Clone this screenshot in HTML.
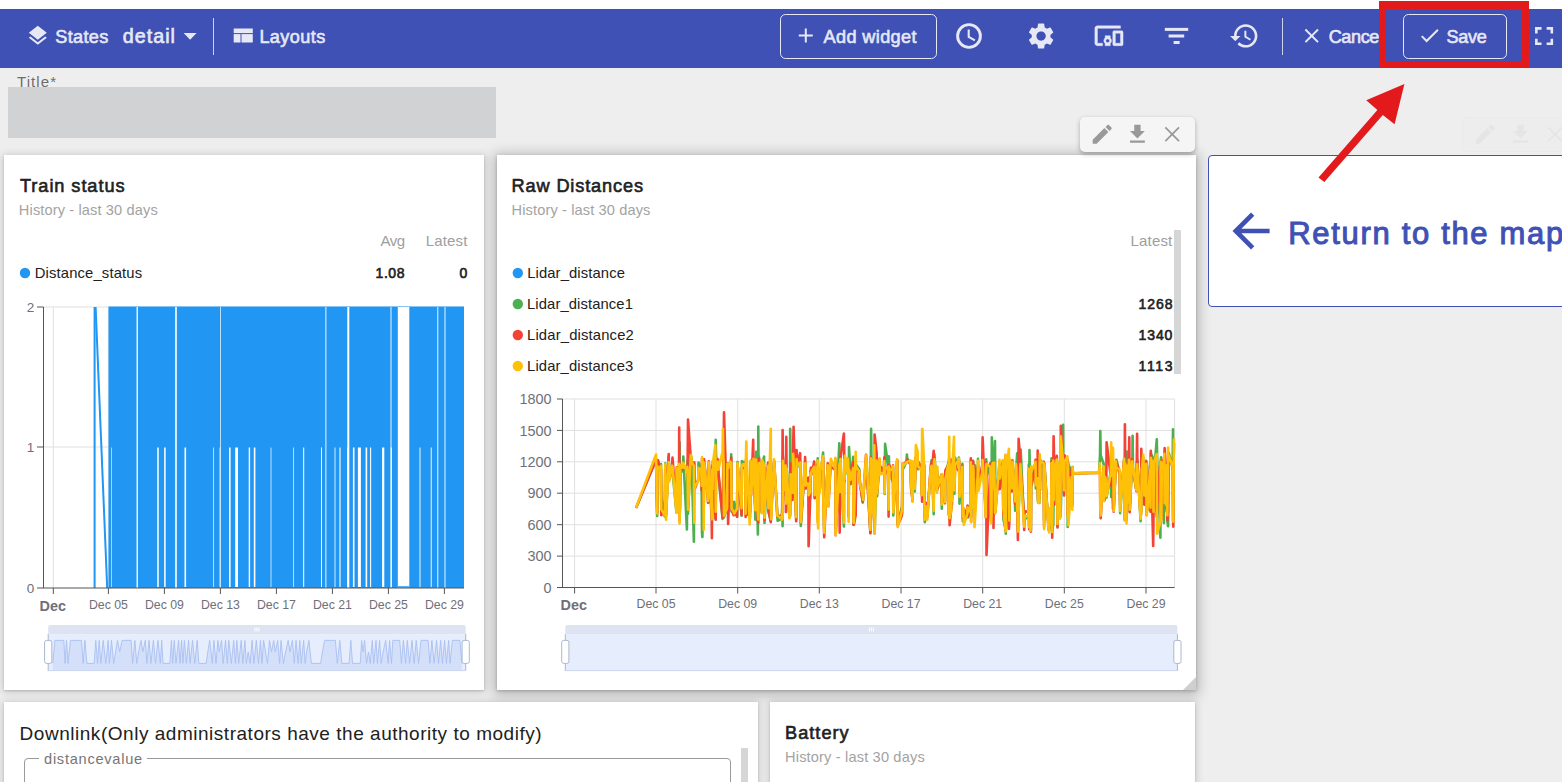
<!DOCTYPE html>
<html><head><meta charset="utf-8"><title>Dashboard</title>
<style>
*{box-sizing:border-box;margin:0;padding:0}
html,body{width:1562px;height:782px;overflow:hidden;background:#eeeeee;font-family:"Liberation Sans", Arial, sans-serif}
body{position:relative}
.a{position:absolute}
.card{position:absolute;background:#fff;box-shadow:0 1px 8px 1px rgba(0,0,0,.17),0 1px 2px rgba(0,0,0,.15)}
svg{position:absolute;left:0;top:0;overflow:visible}
svg text{font-family:"Liberation Sans", Arial, sans-serif;white-space:pre}
</style></head><body>
<div class="a" style="left:0;top:0;width:1562px;height:9px;background:#fff"></div>
<div class="a" style="left:0;top:9px;width:1562px;height:59px;background:#3f51b5"></div>
<div class="a" style="left:8px;top:87px;width:488px;height:51px;background:#d1d2d4"></div>
<div class="card" style="left:4px;top:155px;width:480px;height:535px"></div>
<div class="card" style="left:497px;top:155px;width:699px;height:535px;box-shadow:0 2px 12px 3px rgba(0,0,0,.24),0 1px 3px rgba(0,0,0,.2)"></div>
<div class="a" style="left:1208px;top:155px;width:400px;height:152px;background:#fff;border:1px solid #3f51b5;border-radius:4px"></div>
<div class="card" style="left:4px;top:702px;width:754px;height:100px"></div>
<div class="card" style="left:770px;top:702px;width:425px;height:100px"></div>
<div class="a" style="left:1080px;top:117px;width:115px;height:35px;background:#f5f5f5;border-radius:5px;box-shadow:0 2px 5px rgba(0,0,0,.28)"></div>
<div class="a" style="left:1462px;top:117px;width:115px;height:35px;background:#ededed;border-radius:5px;border:1px solid #eaeaea"></div>
<div class="a" style="left:1174px;top:230px;width:7px;height:144px;background:#d6d6d6"></div>
<div class="a" style="left:741px;top:748px;width:7px;height:40px;background:#d6d6d6"></div>
<div class="a" style="left:24px;top:758px;width:707px;height:40px;border:1px solid #9a9a9a;border-radius:4px"></div>
<div class="a" style="left:39px;top:755px;width:108px;height:6px;background:#fff"></div>
<svg width="1562" height="782" viewBox="0 0 1562 782"><g fill="#e6e8f5">
<path transform="translate(25.8,23.7)" d="M11.99 18.54l-7.37-5.73L3 14.07l9 7 9-7-1.63-1.27-7.38 5.74zM12 16l7.36-5.73L21 9l-9-7-9 7 1.63 1.27L12 16z"/>
<path d="M183.6 33 L196.6 33 L190.1 39.7 Z"/>
<rect x="233.7" y="28.5" width="19.1" height="4.6"/><rect x="233.7" y="34.1" width="6.8" height="8.4"/><rect x="241.5" y="34.1" width="11.3" height="8.4"/>
<path transform="translate(793.8,23.4)" d="M19 13h-6v6h-2v-6H5v-2h6V5h2v6h6v2z"/>
</g>
<circle cx="969" cy="36" r="11.4" fill="none" stroke="#e6e8f5" stroke-width="2.9"/>
<path d="M968.7 29.6 V36.8 L974.9 40.4" fill="none" stroke="#e6e8f5" stroke-width="2.1"/>
<g fill="#e6e8f5">
<path transform="translate(1025.5,20.5) scale(1.3)" d="M19.14 12.94c.04-.3.06-.61.06-.94 0-.32-.02-.64-.07-.94l2.03-1.58c.18-.14.23-.41.12-.61l-1.92-3.32c-.12-.22-.37-.29-.59-.22l-2.39.96c-.5-.38-1.03-.7-1.62-.94l-.36-2.54c-.04-.24-.24-.41-.48-.41h-3.84c-.24 0-.43.17-.47.41l-.36 2.54c-.59.24-1.13.57-1.62.94l-2.39-.96c-.22-.08-.47 0-.59.22L2.74 8.87c-.12.21-.08.47.12.61l2.03 1.58c-.05.3-.09.63-.09.94s.02.64.07.94l-2.03 1.58c-.18.14-.23.41-.12.61l1.920 3.32c.12.22.37.29.59.22l2.39-.96c.5.38 1.03.7 1.62.94l.36 2.54c.05.24.24.41.48.41h3.84c.24 0 .44-.17.47-.41l.36-2.54c.59-.24 1.13-.56 1.62-.94l2.39.96c.22.08.47 0 .59-.22l1.92-3.32c.12-.22.07-.47-.12-.61l-2.01-1.58zM12 15.6c-1.98 0-3.6-1.62-3.6-3.6s1.62-3.6 3.6-3.6 3.6 1.62 3.6 3.6-1.62 3.6-3.6 3.6z"/>
<path stroke="#e6e8f5" stroke-width="0.35" transform="translate(1093.6,20.9) scale(1.28,1.24)" d="M3 6h18V4H3c-1.1 0-2 .9-2 2v12c0 1.1.9 2 2 2h4v-2H3V6zm10 6H9v1.78c-.61.55-1 1.33-1 2.22s.39 1.670 1 2.22V20h4v-1.78c.61-.55 1-1.34 1-2.22s-.39-1.67-1-2.22V12zm-2 5.5c-.83 0-1.5-.67-1.5-1.5s.67-1.5 1.5-1.5 1.5.67 1.5 1.5-.67 1.5-1.5 1.5zM22 8h-6c-.5 0-1 .5-1 1v10c0 .5.5 1 1 1h6c.5 0 1-.5 1-1V9c0-.5-.5-1-1-1zm-1 10h-4v-8h4v8z"/>
<rect x="1164.8" y="27.9" width="23.4" height="3"/><rect x="1168.6" y="34.5" width="15.6" height="3"/><rect x="1173.6" y="41" width="6" height="3"/>
<path transform="translate(1228.8,20.3) scale(1.3)" d="M13 3c-4.97 0-9 4.03-9 9H1l3.89 3.89.07.14L9 12H6c0-3.87 3.13-7 7-7s7 3.13 7 7-3.13 7-7 7c-1.93 0-3.68-.79-4.94-2.060l-1.42 1.42C8.27 19.99 10.51 21 13 21c4.97 0 9-4.03 9-9s-4.03-9-9-9zm-1 5v5l4.28 2.54.72-1.21-3.5-2.08V8H12z"/>
<path transform="translate(1299.7,23.8)" d="M19 6.41L17.59 5 12 10.59 6.41 5 5 6.41 10.59 12 5 17.59 6.41 19 12 13.41 17.59 19 19 17.59 13.41 12z"/>
<path transform="translate(1417.6,23.4)" d="M9 16.17L4.83 12l-1.42 1.41L9 19 21 7l-1.41-1.41z"/>
<path transform="translate(1528.6,20.6) scale(1.29)" d="M7 14H5v5h5v-2H7v-3zm-2-4h2V7h3V5H5v5zm12 7h-3v2h5v-5h-2v3zM14 5v2h3v3h2V5h-5z"/>
</g>
<rect x="213" y="18" width="1" height="37" fill="#e6e8f5" opacity=".85"/>
<rect x="1282" y="18" width="1" height="37" fill="#e6e8f5" opacity=".85"/>
<rect x="780.5" y="14.5" width="156" height="44" rx="5" fill="none" stroke="#e6e8f5" stroke-width="1"/>
<rect x="1403.5" y="14.5" width="103" height="44" rx="5" fill="none" stroke="#e6e8f5" stroke-width="1"/>
<g fill="#999">
<path transform="translate(1089.5,121.5) scale(1.06)" d="M3 17.25V21h3.75L17.81 9.94l-3.75-3.75L3 17.25zM20.71 7.04c.39-.39.39-1.02 0-1.41l-2.34-2.34c-.39-.39-1.02-.39-1.41 0l-1.83 1.83 3.75 3.75 1.83-1.83z"/>
<path transform="translate(1124.7,121.5) scale(1.06)" d="M19 9h-4V3H9v6H5l7 7 7-7zM5 18v2h14v-2H5z"/>
<path transform="translate(1164.7,126.7) scale(0.88)" d="M17 1.41L15.59 0 8.5 7.09 1.41 0 0 1.41 7.09 8.5 0 15.59 1.41 17 8.5 9.91 15.59 17 17 15.59 9.91 8.5z"/>
</g>
<g fill="#e5e5e5">
<path transform="translate(1472.5,121.5) scale(1.06)" d="M3 17.25V21h3.75L17.81 9.94l-3.75-3.75L3 17.25zM20.71 7.04c.39-.39.39-1.02 0-1.41l-2.34-2.34c-.39-.39-1.02-.39-1.41 0l-1.83 1.83 3.75 3.75 1.83-1.83z"/>
<path transform="translate(1507.7,121.5) scale(1.06)" d="M19 9h-4V3H9v6H5l7 7 7-7zM5 18v2h14v-2H5z"/>
<path transform="translate(1547.7,126.7) scale(0.88)" d="M17 1.41L15.59 0 8.5 7.09 1.41 0 0 1.41 7.09 8.5 0 15.59 1.41 17 8.5 9.91 15.59 17 17 15.59 9.91 8.5z"/>
</g>
<path fill="#3f51b5" transform="translate(1223.2,203.2) scale(2.32)" d="M20 11H7.83l5.59-5.59L12 4l-8 8 8 8 1.41-1.41L7.83 13H20v-2z"/>
<path d="M1196 677 L1196 690 L1183 690 Z" fill="#cfcfcf"/>
<circle cx="25" cy="273" r="5.2" fill="#2196f3"/>
<circle cx="517.8" cy="273" r="5.2" fill="#2196f3"/>
<circle cx="517.8" cy="304" r="5.2" fill="#4caf50"/>
<circle cx="517.8" cy="335" r="5.2" fill="#f44336"/>
<circle cx="517.8" cy="366" r="5.2" fill="#ffc107"/>
<line x1="43.5" y1="307.0" x2="464" y2="307.0" stroke="#e0e0e0" stroke-width="1"/>
<line x1="43.5" y1="447.0" x2="464" y2="447.0" stroke="#e0e0e0" stroke-width="1"/>
<line x1="53.3" y1="307.0" x2="53.3" y2="588.0" stroke="#e0e0e0" stroke-width="1"/>
<line x1="108.4" y1="307.0" x2="108.4" y2="588.0" stroke="#e0e0e0" stroke-width="1"/>
<line x1="164.4" y1="307.0" x2="164.4" y2="588.0" stroke="#e0e0e0" stroke-width="1"/>
<line x1="220.4" y1="307.0" x2="220.4" y2="588.0" stroke="#e0e0e0" stroke-width="1"/>
<line x1="276.4" y1="307.0" x2="276.4" y2="588.0" stroke="#e0e0e0" stroke-width="1"/>
<line x1="332.4" y1="307.0" x2="332.4" y2="588.0" stroke="#e0e0e0" stroke-width="1"/>
<line x1="388.4" y1="307.0" x2="388.4" y2="588.0" stroke="#e0e0e0" stroke-width="1"/>
<line x1="444.4" y1="307.0" x2="444.4" y2="588.0" stroke="#e0e0e0" stroke-width="1"/>
<rect x="108.5" y="306.5" width="355.5" height="281.5" fill="#2196f3"/>
<line x1="94.6" y1="307" x2="94.6" y2="588" stroke="#2196f3" stroke-width="2"/>
<line x1="95.6" y1="307" x2="107.2" y2="588" stroke="#2196f3" stroke-width="2"/>
<rect x="136.55" y="307" width="1.3" height="281" fill="#fff"/>
<rect x="175.20" y="307" width="1.6" height="281" fill="#fff"/>
<rect x="220.25" y="307" width="0.7" height="281" fill="#fff"/>
<rect x="325.45" y="307" width="0.9" height="281" fill="#fff"/>
<rect x="347.30" y="307" width="2.0" height="281" fill="#fff"/>
<rect x="390.55" y="307" width="0.9" height="281" fill="#fff"/>
<rect x="437.35" y="307" width="0.9" height="281" fill="#fff"/>
<rect x="444.55" y="307" width="0.9" height="281" fill="#fff"/>
<rect x="111.20" y="447.5" width="0.6" height="139.5" fill="#fff"/>
<rect x="157.25" y="447.5" width="1.5" height="139.5" fill="#fff"/>
<rect x="164.15" y="447.5" width="1.5" height="139.5" fill="#fff"/>
<rect x="184.50" y="447.5" width="1.6" height="139.5" fill="#fff"/>
<rect x="213.35" y="447.5" width="0.7" height="139.5" fill="#fff"/>
<rect x="219.60" y="447.5" width="0.6" height="139.5" fill="#fff"/>
<rect x="229.00" y="447.5" width="1.6" height="139.5" fill="#fff"/>
<rect x="235.20" y="447.5" width="2.8" height="139.5" fill="#fff"/>
<rect x="248.70" y="447.5" width="1.4" height="139.5" fill="#fff"/>
<rect x="253.80" y="447.5" width="1.6" height="139.5" fill="#fff"/>
<rect x="270.65" y="447.5" width="0.7" height="139.5" fill="#fff"/>
<rect x="293.35" y="447.5" width="0.7" height="139.5" fill="#fff"/>
<rect x="303.20" y="447.5" width="1.0" height="139.5" fill="#fff"/>
<rect x="321.00" y="447.5" width="1.0" height="139.5" fill="#fff"/>
<rect x="334.60" y="447.5" width="0.8" height="139.5" fill="#fff"/>
<rect x="339.45" y="447.5" width="1.1" height="139.5" fill="#fff"/>
<rect x="347.20" y="447.5" width="1.6" height="139.5" fill="#fff"/>
<rect x="352.90" y="447.5" width="1.6" height="139.5" fill="#fff"/>
<rect x="357.90" y="447.5" width="3.0" height="139.5" fill="#fff"/>
<rect x="365.60" y="447.5" width="1.6" height="139.5" fill="#fff"/>
<rect x="370.05" y="447.5" width="1.1" height="139.5" fill="#fff"/>
<rect x="382.10" y="447.5" width="2.2" height="139.5" fill="#fff"/>
<rect x="390.75" y="447.5" width="1.1" height="139.5" fill="#fff"/>
<rect x="419.55" y="447.5" width="0.9" height="139.5" fill="#fff"/>
<rect x="430.75" y="447.5" width="0.9" height="139.5" fill="#fff"/>
<rect x="397.8" y="307" width="11.5" height="281" fill="#fff"/>
<line x1="397.8" y1="587" x2="409.3" y2="587" stroke="#2196f3" stroke-width="1.5"/>
<line x1="43.5" y1="307" x2="43.5" y2="588.0" stroke="#555" stroke-width="1"/>
<line x1="37" y1="588.0" x2="464" y2="588.0" stroke="#555" stroke-width="1"/>
<line x1="37" y1="307.0" x2="43.5" y2="307.0" stroke="#555" stroke-width="1"/>
<line x1="37" y1="447.0" x2="43.5" y2="447.0" stroke="#555" stroke-width="1"/>
<line x1="53.3" y1="588.0" x2="53.3" y2="594" stroke="#555" stroke-width="1"/>
<line x1="108.4" y1="588.0" x2="108.4" y2="594" stroke="#555" stroke-width="1"/>
<line x1="164.4" y1="588.0" x2="164.4" y2="594" stroke="#555" stroke-width="1"/>
<line x1="220.4" y1="588.0" x2="220.4" y2="594" stroke="#555" stroke-width="1"/>
<line x1="276.4" y1="588.0" x2="276.4" y2="594" stroke="#555" stroke-width="1"/>
<line x1="332.4" y1="588.0" x2="332.4" y2="594" stroke="#555" stroke-width="1"/>
<line x1="388.4" y1="588.0" x2="388.4" y2="594" stroke="#555" stroke-width="1"/>
<line x1="444.4" y1="588.0" x2="444.4" y2="594" stroke="#555" stroke-width="1"/>
<g font-size="13.5" fill="#6e7079" text-anchor="end">
<text x="34.2" y="312">2</text>
<text x="34.2" y="451.8">1</text>
<text x="34.2" y="592.8">0</text>
</g>
<text x="39.5" y="610.6" font-size="14.4" font-weight="bold" fill="#6e7079">Dec</text>
<g font-size="12.3" fill="#6e7079" text-anchor="middle">
<text x="108.4" y="608.9">Dec 05</text>
<text x="164.4" y="608.9">Dec 09</text>
<text x="220.4" y="608.9">Dec 13</text>
<text x="276.4" y="608.9">Dec 17</text>
<text x="332.4" y="608.9">Dec 21</text>
<text x="388.4" y="608.9">Dec 25</text>
<text x="444.4" y="608.9">Dec 29</text>
</g>
<path d="M48.2 634.2 V627 Q48.2 625 50.2 625 H463.7 Q465.7 625 465.7 627 V634.2 Z" fill="#dee3f1"/>
<rect x="48.2" y="634.2" width="417.5" height="36.6" fill="#e6edfc"/>
<path d="M52.8,670.8 L52.8,663.4 L54.9,640.4 L63.8,640.4 L65.1,663.4 L66.5,640.4 L68.0,663.4 L70.5,640.4 L81.5,640.4 L83.2,663.4 L84.9,640.4 L86.9,663.4 L94.2,663.4 L95.8,640.4 L97.5,663.4 L99.2,640.4 L100.8,663.4 L103.2,640.4 L105.8,663.4 L108.1,640.4 L109.4,663.4 L111.5,640.4 L113.7,663.4 L115.6,651.9 L117.5,640.4 L119.7,651.9 L122.1,640.4 L131.1,640.4 L132.6,663.4 L134.9,640.4 L136.7,663.4 L138.6,651.9 L141.0,640.4 L142.8,651.9 L145.3,640.4 L146.9,663.4 L149.0,640.4 L150.9,663.4 L153.4,640.4 L155.5,663.4 L158.0,640.4 L160.3,663.4 L161.7,640.4 L163.1,663.4 L169.9,663.4 L171.4,640.4 L172.7,663.4 L174.2,640.4 L176.0,663.4 L178.6,640.4 L180.0,663.4 L181.6,640.4 L182.9,663.4 L184.4,640.4 L186.4,663.4 L188.6,640.4 L190.1,663.4 L192.5,640.4 L194.8,663.4 L197.2,640.4 L198.8,663.4 L206.2,663.4 L207.8,651.9 L209.7,640.4 L212.3,663.4 L213.9,640.4 L216.0,663.4 L217.9,640.4 L219.3,651.9 L221.6,640.4 L223.2,663.4 L225.5,640.4 L227.3,663.4 L228.8,640.4 L231.3,663.4 L233.7,640.4 L235.4,663.4 L236.8,640.4 L238.7,663.4 L241.2,640.4 L242.8,663.4 L244.9,640.4 L246.3,663.4 L248.2,651.9 L250.1,663.4 L252.1,640.4 L253.9,663.4 L256.3,640.4 L258.5,663.4 L260.5,640.4 L261.9,663.4 L263.6,640.4 L265.6,651.9 L267.5,663.4 L269.5,640.4 L271.5,651.9 L273.7,640.4 L275.3,651.9 L277.7,640.4 L279.6,663.4 L281.0,640.4 L283.4,663.4 L285.6,651.9 L288.2,640.4 L290.0,651.9 L292.4,640.4 L294.3,663.4 L296.0,640.4 L298.1,663.4 L299.8,640.4 L301.2,663.4 L303.7,640.4 L305.1,663.4 L306.6,651.9 L308.9,640.4 L311.4,663.4 L320.6,663.4 L322.4,651.9 L324.6,640.4 L335.4,640.4 L337.3,663.4 L339.8,640.4 L341.8,663.4 L349.1,663.4 L350.8,640.4 L352.5,663.4 L360.3,663.4 L361.6,640.4 L363.1,651.9 L364.6,640.4 L366.5,663.4 L368.5,651.9 L370.2,663.4 L372.3,640.4 L373.7,663.4 L376.0,640.4 L377.4,663.4 L379.6,640.4 L381.2,663.4 L383.1,651.9 L385.7,640.4 L388.2,663.4 L389.5,640.4 L391.5,663.4 L392.8,640.4 L399.7,640.4 L401.4,663.4 L403.4,640.4 L405.6,663.4 L407.3,640.4 L409.6,663.4 L412.0,640.4 L414.2,663.4 L416.2,640.4 L418.6,663.4 L421.0,640.4 L428.1,640.4 L429.9,663.4 L431.9,640.4 L434.1,663.4 L436.5,640.4 L438.5,663.4 L440.7,640.4 L442.4,663.4 L444.6,640.4 L446.4,663.4 L448.7,640.4 L450.1,663.4 L452.4,640.4 L459.8,640.4 L461.9,663.4 L461.9,670.8 Z" fill="#d4e0fa"/><polyline points="52.8,663.4 54.9,640.4 63.8,640.4 65.1,663.4 66.5,640.4 68.0,663.4 70.5,640.4 81.5,640.4 83.2,663.4 84.9,640.4 86.9,663.4 94.2,663.4 95.8,640.4 97.5,663.4 99.2,640.4 100.8,663.4 103.2,640.4 105.8,663.4 108.1,640.4 109.4,663.4 111.5,640.4 113.7,663.4 115.6,651.9 117.5,640.4 119.7,651.9 122.1,640.4 131.1,640.4 132.6,663.4 134.9,640.4 136.7,663.4 138.6,651.9 141.0,640.4 142.8,651.9 145.3,640.4 146.9,663.4 149.0,640.4 150.9,663.4 153.4,640.4 155.5,663.4 158.0,640.4 160.3,663.4 161.7,640.4 163.1,663.4 169.9,663.4 171.4,640.4 172.7,663.4 174.2,640.4 176.0,663.4 178.6,640.4 180.0,663.4 181.6,640.4 182.9,663.4 184.4,640.4 186.4,663.4 188.6,640.4 190.1,663.4 192.5,640.4 194.8,663.4 197.2,640.4 198.8,663.4 206.2,663.4 207.8,651.9 209.7,640.4 212.3,663.4 213.9,640.4 216.0,663.4 217.9,640.4 219.3,651.9 221.6,640.4 223.2,663.4 225.5,640.4 227.3,663.4 228.8,640.4 231.3,663.4 233.7,640.4 235.4,663.4 236.8,640.4 238.7,663.4 241.2,640.4 242.8,663.4 244.9,640.4 246.3,663.4 248.2,651.9 250.1,663.4 252.1,640.4 253.9,663.4 256.3,640.4 258.5,663.4 260.5,640.4 261.9,663.4 263.6,640.4 265.6,651.9 267.5,663.4 269.5,640.4 271.5,651.9 273.7,640.4 275.3,651.9 277.7,640.4 279.6,663.4 281.0,640.4 283.4,663.4 285.6,651.9 288.2,640.4 290.0,651.9 292.4,640.4 294.3,663.4 296.0,640.4 298.1,663.4 299.8,640.4 301.2,663.4 303.7,640.4 305.1,663.4 306.6,651.9 308.9,640.4 311.4,663.4 320.6,663.4 322.4,651.9 324.6,640.4 335.4,640.4 337.3,663.4 339.8,640.4 341.8,663.4 349.1,663.4 350.8,640.4 352.5,663.4 360.3,663.4 361.6,640.4 363.1,651.9 364.6,640.4 366.5,663.4 368.5,651.9 370.2,663.4 372.3,640.4 373.7,663.4 376.0,640.4 377.4,663.4 379.6,640.4 381.2,663.4 383.1,651.9 385.7,640.4 388.2,663.4 389.5,640.4 391.5,663.4 392.8,640.4 399.7,640.4 401.4,663.4 403.4,640.4 405.6,663.4 407.3,640.4 409.6,663.4 412.0,640.4 414.2,663.4 416.2,640.4 418.6,663.4 421.0,640.4 428.1,640.4 429.9,663.4 431.9,640.4 434.1,663.4 436.5,640.4 438.5,663.4 440.7,640.4 442.4,663.4 444.6,640.4 446.4,663.4 448.7,640.4 450.1,663.4 452.4,640.4 459.8,640.4 461.9,663.4" fill="none" stroke="#a9c0f2" stroke-width="0.9"/>
<line x1="48.2" y1="634" x2="48.2" y2="671" stroke="#aab7d2" stroke-width="1"/>
<line x1="465.7" y1="634" x2="465.7" y2="671" stroke="#aab7d2" stroke-width="1"/>
<line x1="48.2" y1="670.6" x2="465.7" y2="670.6" stroke="#cdd7ee" stroke-width="1"/>
<rect x="44.6" y="640.4" width="7.2" height="23" rx="2" fill="#fff" stroke="#aab7d2" stroke-width="1"/>
<rect x="462.09999999999997" y="640.4" width="7.2" height="23" rx="2" fill="#fff" stroke="#aab7d2" stroke-width="1"/>
<rect x="254.4" y="627.5" width="1" height="4" fill="#fff"/>
<rect x="256.4" y="627.5" width="1" height="4" fill="#fff"/>
<rect x="258.4" y="627.5" width="1" height="4" fill="#fff"/>
<line x1="562.5" y1="399.0" x2="1174.6" y2="399.0" stroke="#e0e0e0" stroke-width="1"/>
<line x1="562.5" y1="430.4" x2="1174.6" y2="430.4" stroke="#e0e0e0" stroke-width="1"/>
<line x1="562.5" y1="461.8" x2="1174.6" y2="461.8" stroke="#e0e0e0" stroke-width="1"/>
<line x1="562.5" y1="493.2" x2="1174.6" y2="493.2" stroke="#e0e0e0" stroke-width="1"/>
<line x1="562.5" y1="524.7" x2="1174.6" y2="524.7" stroke="#e0e0e0" stroke-width="1"/>
<line x1="562.5" y1="556.1" x2="1174.6" y2="556.1" stroke="#e0e0e0" stroke-width="1"/>
<line x1="574.6" y1="399.0" x2="574.6" y2="587.5" stroke="#e0e0e0" stroke-width="1"/>
<line x1="656.0" y1="399.0" x2="656.0" y2="587.5" stroke="#e0e0e0" stroke-width="1"/>
<line x1="737.7" y1="399.0" x2="737.7" y2="587.5" stroke="#e0e0e0" stroke-width="1"/>
<line x1="819.3" y1="399.0" x2="819.3" y2="587.5" stroke="#e0e0e0" stroke-width="1"/>
<line x1="901.0" y1="399.0" x2="901.0" y2="587.5" stroke="#e0e0e0" stroke-width="1"/>
<line x1="982.7" y1="399.0" x2="982.7" y2="587.5" stroke="#e0e0e0" stroke-width="1"/>
<line x1="1064.3" y1="399.0" x2="1064.3" y2="587.5" stroke="#e0e0e0" stroke-width="1"/>
<line x1="1146.0" y1="399.0" x2="1146.0" y2="587.5" stroke="#e0e0e0" stroke-width="1"/>
<line x1="1174.6" y1="399.0" x2="1174.6" y2="587.5" stroke="#e0e0e0" stroke-width="1"/>
<polyline points="636.0,507.9 656.0,459.7 657.2,515.9 657.6,468.7 657.9,460.4 660.6,469.8 661.0,464.1 661.3,496.9 664.6,516.4 664.9,512.0 665.3,463.4 665.6,515.6 666.0,514.5 668.7,457.1 669.0,473.6 671.8,468.4 672.1,463.3 672.5,471.8 676.5,512.2 676.8,470.1 678.9,512.6 679.2,463.5 679.6,442.4 679.9,509.5 680.3,465.3 682.6,470.7 682.9,471.4 683.3,456.5 686.9,529.5 687.3,471.4 687.6,460.5 688.0,513.6 690.8,457.1 691.2,456.7 691.5,457.9 693.9,541.7 694.2,462.4 694.6,486.8 698.2,480.6 698.5,462.5 701.3,467.1 701.7,492.4 702.0,532.9 702.4,537.0 703.4,459.4 703.7,510.5 704.1,463.0 707.8,494.5 708.1,502.5 708.5,466.2 708.8,465.4 711.6,516.3 711.9,519.4 712.3,472.0 712.6,495.7 713.0,460.7 715.4,518.2 715.7,439.7 716.1,456.5 718.0,464.1 718.3,473.4 722.6,518.9 722.9,515.1 723.3,457.9 723.6,461.7 724.0,517.4 727.1,507.7 727.4,464.2 727.8,471.0 728.1,463.3 730.5,466.7 730.9,471.2 731.2,454.3 731.6,511.4 733.7,511.5 734.1,501.7 737.1,516.8 737.5,462.1 741.6,515.7 741.9,461.0 745.2,463.3 745.6,513.5 745.9,462.2 746.3,469.0 746.6,509.0 749.7,504.8 750.1,510.9 750.4,505.4 750.8,460.7 751.1,490.1 753.2,468.3 753.5,458.6 755.4,519.6 755.8,457.2 756.1,451.7 757.9,534.4 758.3,426.5 758.6,472.5 759.0,456.5 759.3,464.5 761.3,468.4 761.7,512.4 762.0,464.6 764.1,456.5 764.5,522.9 764.8,516.5 768.1,464.1 768.4,512.0 770.8,520.3 771.1,512.9 773.8,464.0 774.1,462.6 777.3,512.7 777.6,520.8 781.5,518.8 781.9,515.2 782.2,508.9 782.6,526.1 782.9,455.7 785.2,492.9 785.6,466.5 785.9,500.6 786.3,489.0 786.6,468.0 789.5,517.1 789.9,515.7 790.2,428.9 790.6,470.7 792.5,497.7 792.9,493.4 793.2,471.6 793.6,462.7 796.2,519.0 796.6,461.5 796.9,458.7 800.1,467.8 800.5,467.2 800.8,526.0 804.8,468.9 805.1,464.3 805.5,466.4 805.8,487.9 807.9,481.8 808.3,483.9 808.6,490.6 810.2,498.2 810.5,470.9 810.9,474.3 811.2,473.3 811.6,467.9 814.2,468.3 814.6,496.0 816.7,489.8 817.0,464.1 817.4,517.3 817.7,458.4 818.1,472.3 819.3,477.5 819.6,482.3 820.0,487.2 820.3,477.9 823.1,452.6 823.5,509.8 823.8,509.0 824.2,528.6 827.7,467.0 828.0,485.4 828.4,500.3 830.4,464.8 830.8,463.8 835.0,464.2 835.4,462.9 835.7,528.6 839.3,443.2 839.7,461.3 840.0,483.4 840.4,464.0 843.9,526.4 844.3,459.7 844.6,481.8 845.0,465.8 847.6,473.9 847.9,463.1 848.3,463.6 848.6,516.4 849.0,447.0 850.2,469.9 850.6,476.4 850.9,484.1 853.2,456.9 853.5,524.9 853.9,523.6 855.7,509.3 856.1,464.7 859.2,469.0 859.6,478.3 862.7,502.7 863.1,497.4 866.0,466.3 866.3,458.3 870.4,532.9 870.8,462.0 871.1,428.9 871.5,464.5 871.8,462.0 873.9,514.0 874.3,521.0 874.6,533.4 876.7,466.0 877.1,496.3 879.6,460.9 879.9,472.3 883.7,469.2 884.0,468.1 884.4,464.4 884.7,493.9 885.1,443.9 888.2,466.2 888.6,509.2 888.9,456.4 889.3,478.7 889.6,470.6 892.6,471.0 893.0,468.4 893.3,515.4 897.0,461.3 897.3,471.1 897.7,523.6 901.8,507.4 902.1,513.5 902.5,467.8 902.8,469.3 906.5,461.9 906.9,454.6 907.2,458.5 910.5,463.6 910.8,479.4 911.2,490.5 912.6,497.7 913.0,466.1 914.8,491.4 915.2,478.1 915.5,459.1 915.9,459.6 917.6,459.5 918.0,469.3 921.4,464.5 921.7,492.4 922.1,496.0 922.4,478.2 924.1,464.6 924.5,512.1 924.8,522.3 926.2,513.8 926.6,516.6 926.9,516.1 927.3,516.3 930.8,468.7 931.2,466.8 931.5,460.3 931.9,468.5 933.7,514.3 934.0,456.1 934.4,454.3 937.0,490.8 937.3,470.8 937.7,485.8 941.5,474.5 941.8,508.8 942.2,475.0 945.0,501.2 945.3,478.7 948.2,463.2 948.5,506.9 948.9,465.7 949.2,459.9 949.6,519.3 951.3,506.8 951.7,459.5 952.0,498.2 952.4,472.0 954.0,484.2 954.4,493.8 954.7,485.9 955.1,457.6 958.1,468.6 958.4,464.8 958.8,457.5 959.1,459.4 959.5,503.6 962.4,463.9 962.8,521.2 963.1,512.8 963.5,511.7 963.8,518.3 967.2,516.4 967.6,505.7 967.9,517.5 970.4,509.6 970.8,460.6 971.1,517.1 971.5,464.1 971.8,479.8 973.1,461.7 973.5,468.1 973.8,504.4 974.2,513.5 974.5,464.8 977.7,477.5 978.0,458.8 978.4,487.7 982.2,467.0 982.6,456.3 985.8,510.1 986.2,459.3 986.5,476.8 990.4,463.2 990.8,516.8 991.1,511.2 991.5,513.6 991.8,437.4 992.8,463.2 993.1,486.8 993.5,460.6 993.8,490.1 994.2,470.8 995.0,441.1 995.4,503.4 999.5,467.1 999.8,488.4 1002.2,469.1 1002.6,466.5 1002.9,463.2 1003.3,514.2 1003.6,520.4 1005.1,526.6 1005.5,466.1 1005.8,533.8 1006.2,461.6 1008.9,461.9 1009.3,519.5 1009.6,465.0 1010.0,478.1 1011.5,470.1 1011.8,483.5 1012.2,479.8 1012.5,466.5 1012.9,470.5 1014.9,500.9 1015.2,510.6 1015.6,494.9 1015.9,466.6 1016.3,466.9 1017.2,453.2 1017.5,509.8 1017.9,531.2 1018.2,509.7 1018.6,512.4 1020.4,462.1 1020.7,449.5 1023.9,519.0 1024.2,524.2 1024.6,520.1 1028.4,514.9 1028.8,464.4 1029.1,529.1 1029.5,450.1 1030.5,528.5 1030.9,529.9 1031.2,468.7 1031.6,483.1 1034.8,469.6 1035.1,472.6 1035.5,464.1 1035.8,488.4 1037.4,485.3 1037.7,497.1 1038.1,502.4 1039.4,502.9 1039.8,460.5 1040.1,490.3 1040.5,460.4 1043.7,467.5 1044.1,520.0 1044.4,463.2 1048.4,526.5 1048.8,529.5 1049.1,530.7 1049.5,518.4 1051.2,526.3 1051.5,458.4 1051.9,525.5 1052.2,531.2 1053.3,524.2 1053.6,496.7 1054.0,491.0 1054.3,497.8 1054.7,468.3 1056.8,459.4 1057.1,468.2 1057.5,526.2 1057.8,473.4 1060.1,515.8 1060.4,511.3 1060.8,509.2 1063.1,424.8 1063.4,483.8 1063.8,486.6 1064.1,489.2 1064.5,463.4 1067.4,459.7 1067.7,526.9 1068.1,461.9 1068.4,463.9 1071.6,472.1 1071.9,507.5 1072.3,504.6 1072.6,467.1 1073.0,473.4 1099.0,472.8 1100.0,455.9 1100.3,431.1 1100.7,455.5 1103.7,464.0 1104.1,500.9 1104.4,489.9 1104.8,500.0 1105.1,474.2 1106.3,489.6 1106.6,497.5 1110.5,472.7 1110.8,475.6 1111.2,497.0 1111.5,460.8 1112.6,468.2 1113.0,502.8 1113.3,467.4 1113.7,506.1 1115.9,466.7 1116.3,459.7 1119.7,472.7 1120.1,513.1 1124.2,459.1 1124.5,515.7 1124.9,512.0 1125.2,473.0 1126.5,517.9 1126.9,451.6 1127.2,488.6 1127.6,469.4 1127.9,494.1 1128.6,471.4 1129.0,466.8 1129.3,462.4 1129.7,511.5 1131.9,467.8 1132.3,475.9 1132.6,435.7 1133.0,470.7 1136.4,490.1 1136.7,465.1 1137.1,461.5 1137.4,460.3 1140.6,521.2 1141.0,508.0 1141.3,511.2 1141.7,468.2 1142.0,465.1 1143.3,457.6 1143.6,468.5 1144.0,489.5 1144.3,498.5 1145.9,462.2 1146.2,460.8 1146.6,510.4 1146.9,506.9 1147.3,510.1 1150.1,463.2 1150.5,510.5 1150.8,453.3 1153.2,458.2 1153.5,507.7 1153.9,474.1 1156.8,439.2 1157.1,456.7 1160.4,537.6 1160.7,460.7 1161.1,457.2 1161.4,514.4 1161.8,463.3 1163.9,523.0 1164.3,458.4 1164.6,499.7 1166.0,470.3 1166.3,465.6 1166.7,508.6 1167.0,465.8 1167.4,521.4 1168.1,526.3 1168.4,463.5 1168.8,452.8 1172.6,468.5 1173.0,429.3 1173.3,519.4 1173.7,457.0 1174.0,443.3" fill="none" stroke="#4caf50" stroke-width="2.6" stroke-linejoin="round"/>
<polyline points="636.0,507.9 656.0,459.7 657.2,512.8 657.6,474.2 657.9,460.1 660.6,470.5 661.0,470.0 661.3,515.2 664.6,511.1 664.9,508.1 665.3,465.8 665.6,509.4 666.0,516.7 668.7,454.0 669.0,480.7 671.8,469.6 672.1,465.3 672.5,457.6 676.5,509.0 676.8,467.4 678.9,508.9 679.2,427.6 679.6,520.5 679.9,507.1 680.3,467.6 682.6,466.8 682.9,469.1 683.3,465.5 686.9,468.2 687.3,474.0 687.6,467.5 688.0,419.6 690.8,458.4 691.2,464.0 691.5,465.0 693.9,467.6 694.2,462.8 694.6,489.2 698.2,479.9 698.5,468.5 701.3,468.2 701.7,490.4 702.0,458.5 702.4,462.6 703.4,468.7 703.7,508.7 704.1,459.4 707.8,497.2 708.1,502.7 708.5,472.4 708.8,461.2 711.6,511.1 711.9,538.2 712.3,465.2 712.6,484.8 713.0,461.3 715.4,514.9 715.7,519.7 716.1,460.1 718.0,459.5 718.3,471.2 722.6,517.4 722.9,508.9 723.3,472.5 723.6,457.6 724.0,412.3 727.1,510.9 727.4,467.8 727.8,467.4 728.1,523.9 730.5,461.3 730.9,470.3 731.2,457.6 731.6,509.9 733.7,515.2 734.1,510.0 737.1,516.7 737.5,465.1 741.6,515.0 741.9,468.1 745.2,467.8 745.6,516.9 745.9,459.9 746.3,471.7 746.6,515.1 749.7,509.9 750.1,512.9 750.4,510.3 750.8,462.7 751.1,495.5 753.2,439.8 753.5,471.2 755.4,508.2 755.8,469.0 756.1,459.9 757.9,521.6 758.3,522.8 758.6,472.5 759.0,458.5 759.3,465.0 761.3,464.9 761.7,511.3 762.0,465.1 764.1,467.8 764.5,519.9 764.8,507.5 768.1,462.5 768.4,509.5 770.8,522.3 771.1,514.6 773.8,468.5 774.1,460.8 777.3,516.9 777.6,516.7 781.5,515.3 781.9,518.3 782.2,513.7 782.6,430.0 782.9,456.7 785.2,495.3 785.6,468.9 785.9,511.9 786.3,436.8 786.6,472.7 789.5,516.7 789.9,517.0 790.2,512.2 790.6,463.5 792.5,500.0 792.9,489.3 793.2,444.3 793.6,426.9 796.2,521.3 796.6,450.1 796.9,464.2 800.1,453.2 800.5,465.1 800.8,523.0 804.8,467.9 805.1,457.1 805.5,465.6 805.8,488.6 807.9,486.2 808.3,477.6 808.6,546.3 810.2,497.9 810.5,475.7 810.9,467.9 811.2,469.5 811.6,474.4 814.2,461.4 814.6,498.3 816.7,484.5 817.0,468.1 817.4,518.2 817.7,465.2 818.1,476.9 819.3,483.6 819.6,483.4 820.0,488.8 820.3,472.1 823.1,457.7 823.5,508.3 823.8,510.9 824.2,537.2 827.7,463.3 828.0,497.6 828.4,505.6 830.4,468.6 830.8,466.8 835.0,469.8 835.4,458.9 835.7,535.3 839.3,464.8 839.7,532.6 840.0,498.2 840.4,458.8 843.9,433.5 844.3,455.5 844.6,481.3 845.0,462.9 847.6,470.8 847.9,458.5 848.3,467.0 848.6,516.1 849.0,464.7 850.2,483.0 850.6,481.3 850.9,475.6 853.2,461.9 853.5,524.6 853.9,524.5 855.7,514.9 856.1,471.0 859.2,470.8 859.6,481.7 862.7,501.2 863.1,500.2 866.0,454.8 866.3,463.2 870.4,533.2 870.8,457.4 871.1,506.3 871.5,462.3 871.8,461.5 873.9,516.5 874.3,524.5 874.6,434.5 876.7,453.4 877.1,492.5 879.6,459.1 879.9,465.7 883.7,471.5 884.0,463.3 884.4,457.3 884.7,488.9 885.1,474.6 888.2,465.4 888.6,516.6 888.9,465.2 889.3,471.0 889.6,465.6 892.6,481.6 893.0,465.2 893.3,506.7 897.0,464.8 897.3,460.0 897.7,525.6 901.8,515.8 902.1,506.4 902.5,463.9 902.8,465.6 906.5,461.1 906.9,460.6 907.2,459.3 910.5,464.8 910.8,472.8 911.2,488.0 912.6,501.2 913.0,470.0 914.8,482.8 915.2,475.9 915.5,457.9 915.9,464.4 917.6,461.8 918.0,461.4 921.4,466.8 921.7,487.4 922.1,501.7 922.4,473.8 924.1,465.6 924.5,515.5 924.8,515.5 926.2,513.8 926.6,502.8 926.9,515.0 927.3,516.7 930.8,465.5 931.2,463.2 931.5,465.8 931.9,468.8 933.7,450.8 934.0,458.9 934.4,461.4 937.0,490.3 937.3,473.8 937.7,488.4 941.5,475.0 941.8,502.8 942.2,475.9 945.0,503.3 945.3,470.7 948.2,464.9 948.5,514.0 948.9,461.9 949.2,458.1 949.6,525.2 951.3,508.4 951.7,460.3 952.0,504.6 952.4,469.2 954.0,475.1 954.4,488.1 954.7,479.1 955.1,460.9 958.1,470.2 958.4,469.9 958.8,462.5 959.1,461.6 959.5,492.2 962.4,465.7 962.8,518.0 963.1,513.6 963.5,508.4 963.8,517.2 967.2,508.3 967.6,505.9 967.9,515.7 970.4,509.2 970.8,458.3 971.1,521.9 971.5,468.0 971.8,480.6 973.1,460.7 973.5,474.8 973.8,505.7 974.2,509.0 974.5,467.9 977.7,480.5 978.0,465.1 978.4,486.2 982.2,465.5 982.6,437.2 985.8,517.5 986.2,462.2 986.5,555.0 990.4,464.5 990.8,513.5 991.1,520.4 991.5,516.8 991.8,461.8 992.8,466.1 993.1,485.3 993.5,527.9 993.8,488.4 994.2,466.8 995.0,513.2 995.4,510.8 999.5,464.4 999.8,489.2 1002.2,466.1 1002.6,462.6 1002.9,460.6 1003.3,514.1 1003.6,514.8 1005.1,527.1 1005.5,456.0 1005.8,530.8 1006.2,465.5 1008.9,528.8 1009.3,523.4 1009.6,462.6 1010.0,478.5 1011.5,478.0 1011.8,491.4 1012.2,478.7 1012.5,460.2 1012.9,473.1 1014.9,502.3 1015.2,504.0 1015.6,491.6 1015.9,470.1 1016.3,476.0 1017.2,509.1 1017.5,516.1 1017.9,539.9 1018.2,512.5 1018.6,438.9 1020.4,461.1 1020.7,469.9 1023.9,512.7 1024.2,529.9 1024.6,510.9 1028.4,512.3 1028.8,471.9 1029.1,524.3 1029.5,529.4 1030.5,523.9 1030.9,531.6 1031.2,473.9 1031.6,485.5 1034.8,467.5 1035.1,472.7 1035.5,459.8 1035.8,483.8 1037.4,478.7 1037.7,450.5 1038.1,500.2 1039.4,498.3 1039.8,458.8 1040.1,481.1 1040.5,463.0 1043.7,461.7 1044.1,526.7 1044.4,466.2 1048.4,525.5 1048.8,529.6 1049.1,526.1 1049.5,510.8 1051.2,516.8 1051.5,461.6 1051.9,518.9 1052.2,537.8 1053.3,464.4 1053.6,436.3 1054.0,453.2 1054.3,504.7 1054.7,471.6 1056.8,455.9 1057.1,465.4 1057.5,527.4 1057.8,468.7 1060.1,513.4 1060.4,516.6 1060.8,425.9 1063.1,466.6 1063.4,478.7 1063.8,491.3 1064.1,495.5 1064.5,455.3 1067.4,459.8 1067.7,515.3 1068.1,466.4 1068.4,465.6 1071.6,479.9 1071.9,503.2 1072.3,504.4 1072.6,470.1 1073.0,473.4 1099.0,472.8 1100.0,472.4 1100.3,510.3 1100.7,518.1 1103.7,468.5 1104.1,495.0 1104.4,488.1 1104.8,499.6 1105.1,471.4 1106.3,483.5 1106.6,442.2 1110.5,474.1 1110.8,478.3 1111.2,485.4 1111.5,458.5 1112.6,462.8 1113.0,509.0 1113.3,474.0 1113.7,511.7 1115.9,461.8 1116.3,461.0 1119.7,474.7 1120.1,504.8 1124.2,458.8 1124.5,519.5 1124.9,424.3 1125.2,470.4 1126.5,520.3 1126.9,464.0 1127.2,483.3 1127.6,467.3 1127.9,504.4 1128.6,464.0 1129.0,455.9 1129.3,437.2 1129.7,512.2 1131.9,459.4 1132.3,472.3 1132.6,471.1 1133.0,468.7 1136.4,491.3 1136.7,470.5 1137.1,433.8 1137.4,465.2 1140.6,515.5 1141.0,514.6 1141.3,448.8 1141.7,467.3 1142.0,474.8 1143.3,461.4 1143.6,464.0 1144.0,484.9 1144.3,504.8 1145.9,462.0 1146.2,461.4 1146.6,515.0 1146.9,505.8 1147.3,509.1 1150.1,465.5 1150.5,511.8 1150.8,450.8 1153.2,546.0 1153.5,514.5 1153.9,463.9 1156.8,516.6 1157.1,465.9 1160.4,514.6 1160.7,462.0 1161.1,461.4 1161.4,519.1 1161.8,467.4 1163.9,458.1 1164.3,464.8 1164.6,448.0 1166.0,467.8 1166.3,474.8 1166.7,511.6 1167.0,464.7 1167.4,520.3 1168.1,512.1 1168.4,461.1 1168.8,457.5 1172.6,466.0 1173.0,518.8 1173.3,526.6 1173.7,459.2 1174.0,458.7" fill="none" stroke="#f44336" stroke-width="2.6" stroke-linejoin="round"/>
<polyline points="636.0,507.9 656.0,454.5 657.2,513.5 657.6,466.7 657.9,466.5 660.6,470.1 661.0,465.8 661.3,509.4 664.6,515.2 664.9,511.5 665.3,464.0 665.6,510.3 666.0,519.8 668.7,462.1 669.0,481.8 671.8,466.0 672.1,465.7 672.5,466.7 676.5,512.8 676.8,467.9 678.9,511.8 679.2,463.8 679.6,523.6 679.9,505.5 680.3,466.9 682.6,464.2 682.9,467.8 683.3,462.9 686.9,471.9 687.3,466.7 687.6,471.2 688.0,509.7 690.8,457.1 691.2,455.1 691.5,461.4 693.9,466.2 694.2,522.6 694.6,486.9 698.2,481.2 698.5,467.9 701.3,471.1 701.7,485.7 702.0,457.1 702.4,460.6 703.4,468.5 703.7,529.7 704.1,462.7 707.8,496.4 708.1,500.9 708.5,474.3 708.8,462.4 711.6,510.9 711.9,519.3 712.3,469.8 712.6,489.6 713.0,461.9 715.4,445.3 715.7,511.8 716.1,463.0 718.0,461.6 718.3,469.6 722.6,451.7 722.9,428.7 723.3,458.3 723.6,460.0 724.0,515.9 727.1,508.0 727.4,464.1 727.8,468.8 728.1,465.6 730.5,461.5 730.9,468.3 731.2,463.0 731.6,508.5 733.7,511.9 734.1,513.5 737.1,508.5 737.5,463.3 741.6,508.2 741.9,464.7 745.2,463.7 745.6,513.8 745.9,458.3 746.3,441.5 746.6,455.8 749.7,524.4 750.1,507.0 750.4,517.5 750.8,461.0 751.1,493.9 753.2,468.5 753.5,458.7 755.4,510.2 755.8,462.2 756.1,459.5 757.9,514.4 758.3,519.4 758.6,473.7 759.0,463.1 759.3,462.8 761.3,469.6 761.7,513.3 762.0,459.8 764.1,464.9 764.5,517.7 764.8,508.4 768.1,465.9 768.4,508.3 770.8,428.7 771.1,519.1 773.8,469.8 774.1,459.2 777.3,515.2 777.6,516.4 781.5,517.8 781.9,519.8 782.2,513.6 782.6,518.5 782.9,460.9 785.2,489.9 785.6,465.6 785.9,503.6 786.3,480.9 786.6,468.4 789.5,518.3 789.9,516.1 790.2,513.2 790.6,474.3 792.5,492.8 792.9,492.7 793.2,453.9 793.6,461.8 796.2,517.1 796.6,459.0 796.9,462.0 800.1,466.2 800.5,462.4 800.8,522.2 804.8,463.7 805.1,464.8 805.5,463.2 805.8,485.6 807.9,483.5 808.3,484.0 808.6,495.1 810.2,491.9 810.5,473.3 810.9,475.3 811.2,474.7 811.6,471.2 814.2,466.8 814.6,495.1 816.7,486.0 817.0,467.3 817.4,522.6 817.7,460.6 818.1,528.5 819.3,475.7 819.6,482.2 820.0,491.9 820.3,470.5 823.1,456.4 823.5,515.2 823.8,517.2 824.2,532.6 827.7,465.4 828.0,492.2 828.4,506.6 830.4,465.5 830.8,458.8 835.0,468.5 835.4,457.8 835.7,535.1 839.3,464.8 839.7,463.6 840.0,492.0 840.4,459.0 843.9,522.7 844.3,459.5 844.6,479.3 845.0,455.7 847.6,473.5 847.9,458.5 848.3,464.2 848.6,521.6 849.0,469.3 850.2,474.4 850.6,479.6 850.9,479.4 853.2,467.9 853.5,522.5 853.9,522.9 855.7,451.7 856.1,466.8 859.2,471.5 859.6,482.0 862.7,495.5 863.1,499.8 866.0,456.6 866.3,455.4 870.4,529.8 870.8,458.2 871.1,513.2 871.5,459.6 871.8,460.6 873.9,517.1 874.3,445.4 874.6,533.3 876.7,460.6 877.1,493.4 879.6,458.6 879.9,474.5 883.7,473.1 884.0,467.4 884.4,461.0 884.7,493.1 885.1,469.5 888.2,466.7 888.6,509.6 888.9,466.6 889.3,478.1 889.6,468.7 892.6,470.3 893.0,466.1 893.3,512.4 897.0,459.4 897.3,465.2 897.7,527.1 901.8,511.2 902.1,510.6 902.5,463.9 902.8,466.4 906.5,462.2 906.9,462.6 907.2,461.9 910.5,460.4 910.8,474.9 911.2,486.5 912.6,501.6 913.0,461.2 914.8,488.7 915.2,476.5 915.5,458.5 915.9,445.1 917.6,451.4 918.0,466.1 921.4,470.7 921.7,495.3 922.1,429.1 922.4,428.9 924.1,465.3 924.5,511.9 924.8,519.6 926.2,512.4 926.6,506.4 926.9,516.7 927.3,519.6 930.8,467.2 931.2,467.0 931.5,465.8 931.9,466.9 933.7,510.8 934.0,463.0 934.4,459.4 937.0,492.8 937.3,466.9 937.7,486.1 941.5,475.3 941.8,504.5 942.2,474.1 945.0,502.1 945.3,479.4 948.2,464.6 948.5,515.2 948.9,459.7 949.2,436.8 949.6,518.3 951.3,510.5 951.7,464.6 952.0,501.0 952.4,467.7 954.0,436.9 954.4,490.4 954.7,480.5 955.1,464.7 958.1,461.0 958.4,467.7 958.8,458.6 959.1,460.7 959.5,496.8 962.4,466.7 962.8,516.7 963.1,515.0 963.5,509.1 963.8,524.9 967.2,514.3 967.6,507.4 967.9,512.6 970.4,506.8 970.8,462.3 971.1,522.1 971.5,467.7 971.8,489.9 973.1,466.1 973.5,470.1 973.8,508.3 974.2,510.0 974.5,527.1 977.7,475.2 978.0,460.9 978.4,491.0 982.2,472.4 982.6,460.1 985.8,517.0 986.2,465.0 986.5,463.8 990.4,467.0 990.8,514.0 991.1,523.2 991.5,516.4 991.8,466.5 992.8,462.9 993.1,488.2 993.5,463.8 993.8,484.2 994.2,462.9 995.0,512.9 995.4,512.4 999.5,459.9 999.8,478.5 1002.2,466.3 1002.6,467.2 1002.9,460.0 1003.3,508.2 1003.6,510.1 1005.1,528.1 1005.5,454.6 1005.8,531.3 1006.2,469.5 1008.9,448.8 1009.3,520.5 1009.6,458.5 1010.0,474.3 1011.5,473.6 1011.8,488.1 1012.2,480.3 1012.5,461.8 1012.9,472.2 1014.9,500.1 1015.2,501.4 1015.6,497.6 1015.9,464.1 1016.3,466.9 1017.2,510.9 1017.5,507.9 1017.9,531.4 1018.2,514.9 1018.6,512.5 1020.4,464.1 1020.7,469.5 1023.9,523.2 1024.2,526.6 1024.6,515.9 1028.4,516.4 1028.8,468.9 1029.1,527.1 1029.5,525.5 1030.5,530.7 1030.9,523.5 1031.2,466.3 1031.6,470.7 1034.8,464.0 1035.1,466.6 1035.5,461.8 1035.8,485.2 1037.4,478.3 1037.7,487.7 1038.1,503.0 1039.4,502.6 1039.8,454.2 1040.1,487.9 1040.5,461.3 1043.7,463.1 1044.1,529.1 1044.4,465.1 1048.4,528.7 1048.8,529.0 1049.1,532.4 1049.5,508.3 1051.2,521.3 1051.5,463.1 1051.9,522.0 1052.2,532.0 1053.3,460.6 1053.6,500.3 1054.0,488.9 1054.3,498.8 1054.7,471.1 1056.8,459.6 1057.1,464.9 1057.5,524.0 1057.8,463.4 1060.1,518.7 1060.4,516.3 1060.8,436.4 1063.1,462.3 1063.4,478.3 1063.8,490.1 1064.1,490.2 1064.5,461.8 1067.4,456.3 1067.7,517.0 1068.1,464.3 1068.4,525.3 1071.6,477.1 1071.9,501.6 1072.3,509.8 1072.6,467.5 1073.0,473.4 1099.0,472.8 1100.0,463.4 1100.3,508.6 1100.7,515.5 1103.7,466.3 1104.1,500.9 1104.4,487.2 1104.8,495.9 1105.1,477.0 1106.3,481.0 1106.6,496.1 1110.5,474.6 1110.8,476.3 1111.2,442.4 1111.5,463.9 1112.6,467.3 1113.0,447.9 1113.3,465.3 1113.7,511.0 1115.9,461.4 1116.3,467.6 1119.7,469.7 1120.1,511.0 1124.2,458.9 1124.5,520.4 1124.9,511.2 1125.2,463.5 1126.5,523.4 1126.9,467.3 1127.2,480.7 1127.6,465.6 1127.9,502.3 1128.6,470.8 1129.0,459.7 1129.3,460.0 1129.7,509.8 1131.9,464.4 1132.3,461.2 1132.6,466.1 1133.0,466.6 1136.4,490.4 1136.7,468.7 1137.1,464.2 1137.4,468.3 1140.6,518.9 1141.0,509.8 1141.3,513.3 1141.7,468.5 1142.0,468.1 1143.3,454.7 1143.6,463.4 1144.0,484.4 1144.3,495.5 1145.9,466.4 1146.2,463.8 1146.6,515.5 1146.9,513.2 1147.3,510.8 1150.1,469.9 1150.5,507.6 1150.8,457.8 1153.2,466.5 1153.5,511.7 1153.9,462.5 1156.8,454.0 1157.1,533.8 1160.4,522.0 1160.7,461.7 1161.1,462.9 1161.4,520.3 1161.8,466.7 1163.9,461.0 1164.3,453.8 1164.6,503.2 1166.0,472.3 1166.3,467.4 1166.7,505.8 1167.0,465.0 1167.4,515.2 1168.1,447.6 1168.4,461.0 1168.8,455.3 1172.6,466.5 1173.0,519.9 1173.3,521.6 1173.7,460.7 1174.0,438.6" fill="none" stroke="#ffc107" stroke-width="2.6" stroke-linejoin="round"/>
<line x1="562.5" y1="399.0" x2="562.5" y2="587.5" stroke="#555" stroke-width="1"/>
<line x1="557" y1="587.5" x2="1174.6" y2="587.5" stroke="#555" stroke-width="1"/>
<line x1="557" y1="399.0" x2="562.5" y2="399.0" stroke="#555" stroke-width="1"/>
<line x1="557" y1="430.4" x2="562.5" y2="430.4" stroke="#555" stroke-width="1"/>
<line x1="557" y1="461.8" x2="562.5" y2="461.8" stroke="#555" stroke-width="1"/>
<line x1="557" y1="493.2" x2="562.5" y2="493.2" stroke="#555" stroke-width="1"/>
<line x1="557" y1="524.7" x2="562.5" y2="524.7" stroke="#555" stroke-width="1"/>
<line x1="557" y1="556.1" x2="562.5" y2="556.1" stroke="#555" stroke-width="1"/>
<line x1="574.6" y1="587.5" x2="574.6" y2="593.5" stroke="#555" stroke-width="1"/>
<line x1="656.0" y1="587.5" x2="656.0" y2="593.5" stroke="#555" stroke-width="1"/>
<line x1="737.7" y1="587.5" x2="737.7" y2="593.5" stroke="#555" stroke-width="1"/>
<line x1="819.3" y1="587.5" x2="819.3" y2="593.5" stroke="#555" stroke-width="1"/>
<line x1="901.0" y1="587.5" x2="901.0" y2="593.5" stroke="#555" stroke-width="1"/>
<line x1="982.7" y1="587.5" x2="982.7" y2="593.5" stroke="#555" stroke-width="1"/>
<line x1="1064.3" y1="587.5" x2="1064.3" y2="593.5" stroke="#555" stroke-width="1"/>
<line x1="1146.0" y1="587.5" x2="1146.0" y2="593.5" stroke="#555" stroke-width="1"/>
<g font-size="14.4" fill="#6e7079" text-anchor="end">
<text x="551.6" y="404.1">1800</text>
<text x="551.6" y="435.5">1500</text>
<text x="551.6" y="466.9">1200</text>
<text x="551.6" y="498.4">900</text>
<text x="551.6" y="529.8">600</text>
<text x="551.6" y="561.2">300</text>
<text x="551.6" y="592.6">0</text>
</g>
<text x="560.6" y="610.4" font-size="14.4" font-weight="bold" fill="#6e7079">Dec</text>
<g font-size="12.3" fill="#6e7079" text-anchor="middle">
<text x="656.0" y="608.4">Dec 05</text>
<text x="737.7" y="608.4">Dec 09</text>
<text x="819.3" y="608.4">Dec 13</text>
<text x="901.0" y="608.4">Dec 17</text>
<text x="982.7" y="608.4">Dec 21</text>
<text x="1064.3" y="608.4">Dec 25</text>
<text x="1146.0" y="608.4">Dec 29</text>
</g>
<path d="M565.3 634.2 V627 Q565.3 625 567.3 625 H1175.4 Q1177.4 625 1177.4 627 V634.2 Z" fill="#dee3f1"/>
<rect x="565.3" y="634.2" width="612.1000000000001" height="36.6" fill="#e6edfc"/>
<line x1="565.3" y1="634" x2="565.3" y2="671" stroke="#aab7d2" stroke-width="1"/>
<line x1="1177.4" y1="634" x2="1177.4" y2="671" stroke="#aab7d2" stroke-width="1"/>
<line x1="565.3" y1="670.6" x2="1177.4" y2="670.6" stroke="#cdd7ee" stroke-width="1"/>
<rect x="561.6999999999999" y="640.4" width="7.2" height="23" rx="2" fill="#fff" stroke="#aab7d2" stroke-width="1"/>
<rect x="1173.8000000000002" y="640.4" width="7.2" height="23" rx="2" fill="#fff" stroke="#aab7d2" stroke-width="1"/>
<rect x="868.9" y="627.5" width="1" height="4" fill="#fff"/>
<rect x="870.9" y="627.5" width="1" height="4" fill="#fff"/>
<rect x="872.9" y="627.5" width="1" height="4" fill="#fff"/>
<text x="55.23" y="43.0" font-size="18.1" font-weight="normal" fill="#e6e8f5" letter-spacing="0.364" stroke="#e6e8f5" stroke-width="0.6">States</text>
<text x="122.71" y="43.0" font-size="19.7" font-weight="normal" fill="#e6e8f5" letter-spacing="1.034" stroke="#e6e8f5" stroke-width="0.65">detail</text>
<text x="259.39" y="43.0" font-size="18.1" font-weight="normal" fill="#e6e8f5" letter-spacing="0.414" stroke="#e6e8f5" stroke-width="0.6">Layouts</text>
<text x="823.6" y="43.1" font-size="18.1" font-weight="normal" fill="#e6e8f5" letter-spacing="0.376" stroke="#e6e8f5" stroke-width="0.6">Add widget</text>
<text x="1328.65" y="42.9" font-size="18.1" font-weight="normal" fill="#e6e8f5" letter-spacing="-0.385" stroke="#e6e8f5" stroke-width="0.6">Cancel</text>
<text x="1446.53" y="43.3" font-size="18.1" font-weight="normal" fill="#e6e8f5" letter-spacing="-0.285" stroke="#e6e8f5" stroke-width="0.6">Save</text>
<text x="16.97" y="86.8" font-size="15.0" font-weight="normal" fill="#6e6e6e" letter-spacing="1.086">Title*</text>
<text x="20.02" y="192.0" font-size="18.2" font-weight="normal" fill="#212121" letter-spacing="0.923" stroke="#212121" stroke-width="0.6">Train status</text>
<text x="18.86" y="214.8" font-size="14.6" font-weight="normal" fill="#a3a3a3" letter-spacing="0.123">History - last 30 days</text>
<text x="380.4" y="245.8" font-size="15.0" font-weight="normal" fill="#9e9e9e" letter-spacing="-0.467">Avg</text>
<text x="425.73" y="245.8" font-size="15.0" font-weight="normal" fill="#9e9e9e" letter-spacing="0.152">Latest</text>
<text x="34.64" y="277.9" font-size="14.8" font-weight="normal" fill="#212121" letter-spacing="0.159">Distance_status</text>
<text x="375.62" y="277.8" font-size="14.0" font-weight="normal" fill="#212121" letter-spacing="0.531" stroke="#212121" stroke-width="0.6">1.08</text>
<text x="459.56" y="277.8" font-size="14.0" font-weight="normal" fill="#212121" stroke="#212121" stroke-width="0.6">0</text>
<text x="511.58" y="191.5" font-size="18.2" font-weight="normal" fill="#212121" letter-spacing="0.843" stroke="#212121" stroke-width="0.6">Raw Distances</text>
<text x="511.56" y="214.8" font-size="14.6" font-weight="normal" fill="#a3a3a3" letter-spacing="0.123">History - last 30 days</text>
<text x="1130.53" y="245.8" font-size="15.0" font-weight="normal" fill="#9e9e9e" letter-spacing="0.172">Latest</text>
<text x="527.14" y="277.9" font-size="14.8" font-weight="normal" fill="#212121" letter-spacing="0.122">Lidar_distance</text>
<text x="527.04" y="308.9" font-size="14.8" font-weight="normal" fill="#212121" letter-spacing="0.097">Lidar_distance1</text>
<text x="527.04" y="339.9" font-size="14.8" font-weight="normal" fill="#212121" letter-spacing="0.161">Lidar_distance2</text>
<text x="527.04" y="370.9" font-size="14.8" font-weight="normal" fill="#212121" letter-spacing="0.126">Lidar_distance3</text>
<text x="1138.62" y="308.6" font-size="14.0" font-weight="normal" fill="#212121" letter-spacing="0.933" stroke="#212121" stroke-width="0.6">1268</text>
<text x="1138.62" y="340.0" font-size="14.0" font-weight="normal" fill="#212121" letter-spacing="0.86" stroke="#212121" stroke-width="0.6">1340</text>
<text x="1138.62" y="370.7" font-size="14.0" font-weight="normal" fill="#212121" letter-spacing="1.625" stroke="#212121" stroke-width="0.6">1113</text>
<text x="19.62" y="739.8" font-size="19.0" font-weight="normal" fill="#212121" letter-spacing="0.524">Downlink(Only administrators have the authority to modify)</text>
<text x="44.04" y="763.5" font-size="14.6" font-weight="normal" fill="#767676" letter-spacing="0.739">distancevalue</text>
<text x="785.08" y="738.9" font-size="18.2" font-weight="normal" fill="#212121" letter-spacing="0.994" stroke="#212121" stroke-width="0.6">Battery</text>
<text x="785.06" y="761.8" font-size="14.6" font-weight="normal" fill="#a3a3a3" letter-spacing="0.161">History - last 30 days</text>
<text x="1288.29" y="243.7" font-size="31.0" font-weight="normal" fill="#3f51b5" letter-spacing="1.676" stroke="#3f51b5" stroke-width="1.02">Return to the map</text></svg>
<div class="a" style="left:1379px;top:1px;width:150px;height:67px;border:7px solid #e31a1c;border-top-width:8px"></div>
<svg width="1562" height="782"><polygon points="1404.4,84.1 1366.2,100.3 1377.4,110 1318.5,177.6 1324.3,182.1 1382.8,115 1394.6,124.3" fill="#e31a1c"/></svg>
</body></html>
